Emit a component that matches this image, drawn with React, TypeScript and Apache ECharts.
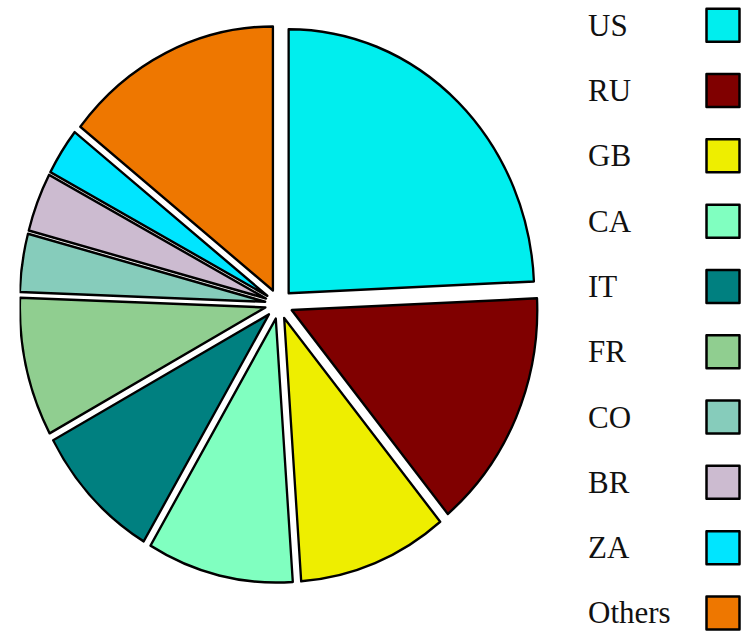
import { useEffect, useRef } from "react";
import * as echarts from "echarts";

// Data (share of total, %)
const categories = ["US", "RU", "GB", "CA", "IT", "FR", "CO", "BR", "ZA", "Others"];
const shares = [24.3, 14.75, 9.86, 9.63, 8.57, 8.5, 3.56, 3.61, 2.89, 14.36];
const palette = [
  "#00eeee",
  "#800000",
  "#eeee00",
  "#80ffc0",
  "#008080",
  "#90ce90",
  "#86ccbb",
  "#ccbbd0",
  "#00e5ff",
  "#ee7700",
];

const FONT = "'Liberation Serif', 'DejaVu Serif', serif";

export default function App() {
  const pieRef = useRef<HTMLDivElement>(null);
  const legRef = useRef<HTMLDivElement>(null);

  useEffect(() => {
    const data = categories.map((name, i) => ({
      name,
      value: shares[i],
      selected: true,
      itemStyle: { color: palette[i] },
    }));

    const pie = echarts.init(pieRef.current!, undefined, { renderer: "svg" });
    pie.setOption({
      animation: false,
      series: [
        {
          type: "pie",
          center: [279, 304],
          radius: 264,
          startAngle: 90,
          clockwise: true,
          selectedMode: "multiple",
          selectedOffset: 15,
          silent: true,
          data,
          itemStyle: { borderColor: "#000", borderWidth: 2.5 },
          label: { show: false },
          labelLine: { show: false },
          emphasis: { disabled: true },
        },
      ],
    });

    const leg = echarts.init(legRef.current!, undefined, { renderer: "svg" });
    leg.setOption({
      animation: false,
      legend: {
        orient: "vertical",
        left: 588,
        top: 7.5,
        padding: 0,
        align: "right",
        icon: "rect",
        itemWidth: 33,
        itemHeight: 33,
        itemGap: 29.8,
        selectedMode: false,
        itemStyle: { borderColor: "#000", borderWidth: 2.5 },
        formatter: "{t|{name}}",
        textStyle: {
          fontSize: 31,
          fontFamily: FONT,
          color: "#111",
          rich: {
            t: {
              width: 113.5,
              align: "left",
              fontSize: 31,
              fontFamily: FONT,
              color: "#111",
              lineHeight: 33,
            },
          },
        },
        data: categories,
      },
      series: [
        {
          type: "pie",
          center: [-200, -200],
          radius: [0, 0],
          silent: true,
          data: categories.map((name, i) => ({
            name,
            value: shares[i],
            itemStyle: { color: palette[i] },
          })),
          itemStyle: { borderWidth: 0 },
          label: { show: false },
          labelLine: { show: false },
        },
      ],
    });

    return () => {
      pie.dispose();
      leg.dispose();
    };
  }, []);

  return (
    <div
      style={{
        position: "absolute",
        left: 0,
        top: 0,
        width: 748,
        height: 633,
        overflow: "hidden",
        background: "#fff",
      }}
    >
      <div
        ref={pieRef}
        style={{
          position: "absolute",
          left: 0,
          top: 0,
          width: 748,
          height: 633,
          transform: "scaleX(0.93)",
          transformOrigin: "279px 304px",
        }}
      />
      <div
        ref={legRef}
        style={{ position: "absolute", left: 0, top: 0, width: 748, height: 700 }}
      />
    </div>
  );
}
